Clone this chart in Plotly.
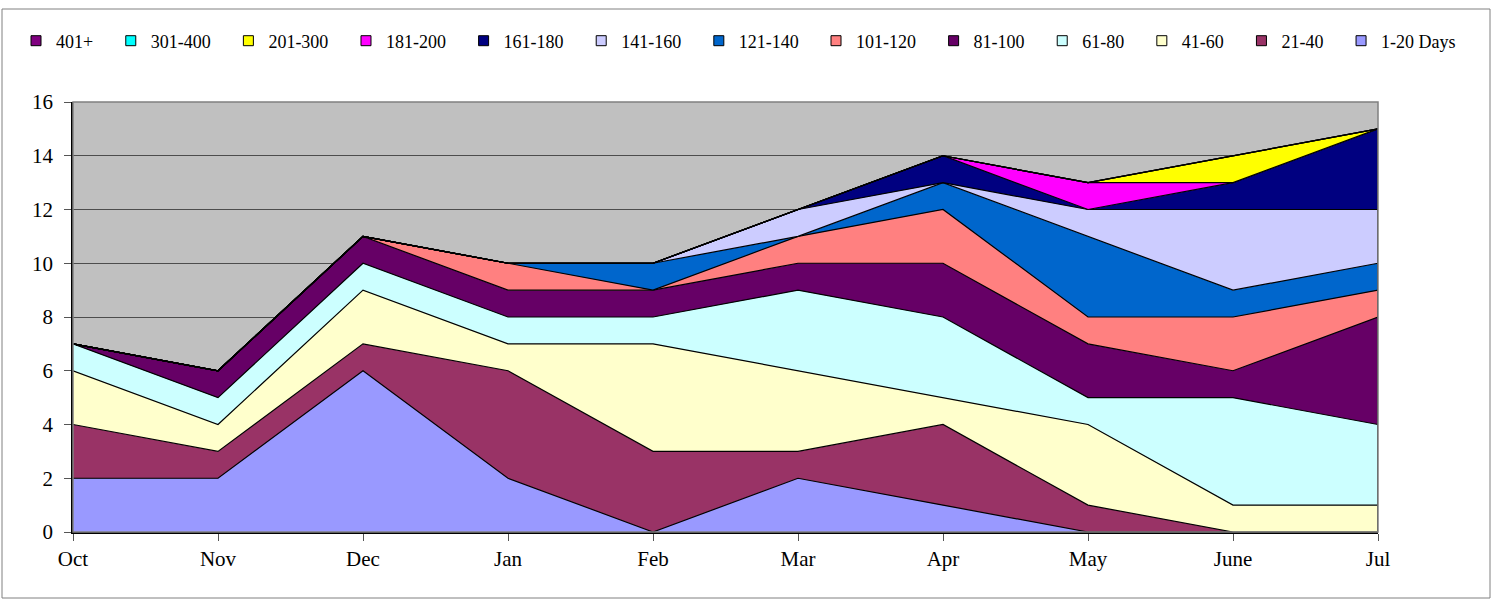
import plotly.graph_objects as go

months = ["Oct", "Nov", "Dec", "Jan", "Feb", "Mar", "Apr", "May", "June", "Jul"]

series_names = ["1-20 Days", "21-40", "41-60", "61-80", "81-100", "101-120",
                "121-140", "141-160", "161-180", "181-200", "201-300", "301-400", "401+"]

d_1_20 = [2, 2, 6, 2, 0, 2, 1, 0, 0, 0]
d_21_40 = [2, 1, 1, 4, 3, 1, 3, 1, 0, 0]
d_41_60 = [2, 1, 2, 1, 4, 3, 1, 3, 1, 1]
d_61_80 = [1, 1, 1, 1, 1, 3, 3, 1, 4, 3]
d_81_100 = [0, 1, 1, 1, 1, 1, 2, 2, 1, 4]
d_101_120 = [0, 0, 0, 1, 0, 1, 2, 1, 2, 1]
d_121_140 = [0, 0, 0, 0, 1, 0, 1, 3, 1, 1]
d_141_160 = [0, 0, 0, 0, 0, 1, 0, 1, 3, 2]
d_161_180 = [0, 0, 0, 0, 0, 0, 1, 0, 1, 3]
d_181_200 = [0, 0, 0, 0, 0, 0, 0, 1, 0, 0]
d_201_300 = [0, 0, 0, 0, 0, 0, 0, 0, 1, 0]
d_301_400 = [0, 0, 0, 0, 0, 0, 0, 0, 0, 0]
d_401 = [0, 0, 0, 0, 0, 0, 0, 0, 0, 0]

series_values = [d_1_20, d_21_40, d_41_60, d_61_80, d_81_100, d_101_120,
                 d_121_140, d_141_160, d_161_180, d_181_200, d_201_300, d_301_400, d_401]

colors = ["#9999FF", "#993366", "#FFFFCC", "#CCFFFF", "#660066", "#FF8080",
          "#0066CC", "#CCCCFF", "#000080", "#FF00FF", "#FFFF00", "#00FFFF", "#800080"]

y_ticks = [0, 2, 4, 6, 8, 10, 12, 14, 16]

FONT = "Liberation Serif, Times New Roman, serif"
PAD = "\u00a0\u00a0\u2009"  # small trailing gap between legend entries

fig = go.Figure()

for name, vals, col in zip(series_names, series_values, colors):
    fig.add_trace(go.Scatter(
        x=months, y=vals, name=name, mode="lines", stackgroup="one",
        fillcolor=col, line=dict(color="black", width=1.2),
        showlegend=False, hoverinfo="x+y+name"))

# right-hand closing edge of the stacked polygon
totals = [sum(v[i] for v in series_values) for i in range(len(months))]
fig.add_trace(go.Scatter(x=[months[-1], months[-1]], y=[0, totals[-1]], mode="lines",
                         line=dict(color="black", width=1.5), showlegend=False,
                         hoverinfo="skip"))

# legend entries (reversed order, square swatches), split over two legend boxes
legend_items = list(reversed(list(zip(series_names, colors))))
for i, (name, col) in enumerate(legend_items):
    label = name if i == len(legend_items) - 1 else name + PAD
    fig.add_trace(go.Scatter(
        x=[months[0]], y=[None], name=label, mode="markers",
        legend="legend" if i < 7 else "legend2",
        marker=dict(symbol="square", size=10, color=col, line=dict(color="black", width=1)),
        showlegend=True, hoverinfo="skip"))

L, R, T, B = 73, 123, 102, 67
W, H = 1501, 599
pw, ph = W - L - R, H - T - B

def px_x(x):
    return (x - L) / pw

def px_y(y):
    return (H - B - y) / ph

legend_common = dict(orientation="h", xref="container", yref="container",
                     xanchor="left", y=1 - 41 / H, yanchor="middle",
                     font=dict(family=FONT, size=18, color="black"), traceorder="normal",
                     bgcolor="rgba(0,0,0,0)", itemwidth=30, tracegroupgap=0)

fig.update_layout(
    width=W, height=H,
    margin=dict(l=L, r=R, t=T, b=B, pad=0),
    paper_bgcolor="white",
    plot_bgcolor="#C0C0C0",
    font=dict(family=FONT, size=21, color="black"),
    showlegend=True,
    legend=dict(x=16 / W, **legend_common),
    legend2=dict(x=816 / W, **legend_common),
    xaxis=dict(type="category", range=[0, len(months) - 1], showgrid=False,
               showline=True, linecolor="black", linewidth=1.5,
               ticks="outside", ticklen=7, tickcolor="#555555", tickwidth=1,
               tickfont=dict(family=FONT, size=21, color="black"), zeroline=False),
    yaxis=dict(range=[0, 16], tickvals=y_ticks, showgrid=True, gridcolor="#4d4d4d",
               gridwidth=1, showline=True, linecolor="black", linewidth=1.5,
               ticks="outside", ticklen=7, tickcolor="#555555", tickwidth=1,
               ticklabelstandoff=7,
               tickfont=dict(family=FONT, size=21, color="black"), zeroline=False),
    shapes=[
        dict(type="rect", xref="paper", yref="paper", x0=0, x1=1, y0=0, y1=1,
             line=dict(color="#808080", width=1.5), fillcolor="rgba(0,0,0,0)", layer="above"),
        dict(type="rect", xref="paper", yref="paper", x0=px_x(2), x1=px_x(1490),
             y0=px_y(598), y1=px_y(9),
             line=dict(color="#808080", width=1), fillcolor="rgba(0,0,0,0)", layer="above"),
    ],
)

fig.write_html("out.html", config={"displayModeBar": False},
               post_script="document.body.style.margin='0';document.body.style.overflow='hidden';")
